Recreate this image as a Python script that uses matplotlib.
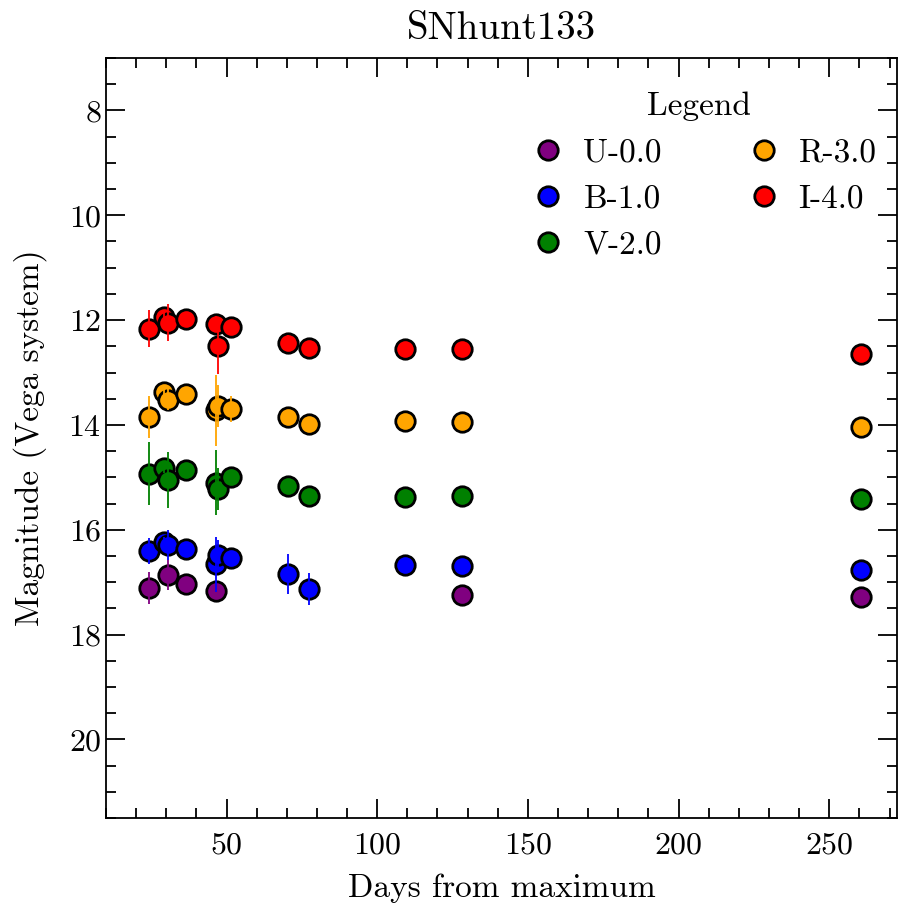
import matplotlib
matplotlib.use("Agg")
import matplotlib.pyplot as plt

plt.rcParams['font.family'] = ['cmr10', 'DejaVu Serif']
plt.rcParams['axes.formatter.use_mathtext'] = True
plt.rcParams['mathtext.fontset'] = 'cm'

title = "SNhunt133"
xlabel = "Days from maximum"
ylabel = "Magnitude (Vega system)"

# phases (days from maximum)
t_U = [24.4, 30.5, 36.6, 46.6, 128.2, 260.7]
m_U = [17.11, 16.86, 17.03, 17.16, 17.24, 17.29]
e_U = [0.30, 0.28, 0.05, 0.05, 0.05, 0.05]

t_all = [24.4, 29.4, 30.5, 36.6, 46.6, 47.3, 51.4, 70.4, 77.3, 109.3, 128.2, 260.7]

m_B = [16.41, 16.23, 16.29, 16.37, 16.66, 16.49, 16.54, 16.85, 17.13, 16.67, 16.69, 16.76]
e_B = [0.25, 0.10, 0.29, 0.05, 0.52, 0.30, 0.05, 0.38, 0.30, 0.05, 0.05, 0.05]

m_V = [14.93, 14.82, 15.05, 14.85, 15.10, 15.23, 15.00, 15.17, 15.35, 15.37, 15.35, 15.42]
e_V = [0.60, 0.10, 0.54, 0.05, 0.62, 0.40, 0.05, 0.05, 0.05, 0.05, 0.05, 0.05]

m_R = [13.84, 13.38, 13.52, 13.41, 13.72, 13.63, 13.69, 13.85, 13.99, 13.92, 13.95, 14.03]
e_R = [0.40, 0.10, 0.20, 0.05, 0.68, 0.40, 0.25, 0.10, 0.05, 0.05, 0.05, 0.05]

m_I = [12.16, 11.95, 12.05, 11.97, 12.08, 12.49, 12.13, 12.43, 12.54, 12.56, 12.55, 12.65]
e_I = [0.35, 0.10, 0.35, 0.05, 0.15, 0.54, 0.05, 0.15, 0.05, 0.05, 0.05, 0.05]

labels = ["U-0.0", "B-1.0", "V-2.0", "R-3.0", "I-4.0"]
colors = ["purple", "blue", "green", "orange", "red"]

series = [(t_U, m_U, e_U), (t_all, m_B, e_B), (t_all, m_V, e_V),
          (t_all, m_R, e_R), (t_all, m_I, e_I)]

fig = plt.figure(figsize=(9.03, 9.11), dpi=100)
ax = fig.add_axes([0.1174, 0.102, 0.8760, 0.8343])

for (t, m, e), lab, c in zip(series, labels, colors):
    ax.plot(t, m, 'o', ms=14, mfc=c, mec='black', mew=2, label=lab, ls='none')
    ax.errorbar(t, m, yerr=e, fmt='none', ecolor=c, elinewidth=1.3, capsize=0)

ax.set_xlim(10, 272.5)
ax.set_ylim(21.5, 7)
ax.set_yticks([8, 10, 12, 14, 16, 18, 20])
ax.set_xticks([50, 100, 150, 200, 250])
ax.xaxis.set_minor_locator(matplotlib.ticker.MultipleLocator(10))
ax.yaxis.set_minor_locator(matplotlib.ticker.MultipleLocator(0.5))
ax.tick_params(which='both', direction='in', top=True, right=True, labelsize=23, width=1.3)
ax.tick_params(which='major', length=14)
ax.tick_params(which='minor', length=7)
ax.tick_params(axis='x', pad=10)
for s in ax.spines.values():
    s.set_linewidth(1.3)

ax.set_title(title, fontsize=28, pad=14)
ax.set_xlabel(xlabel, fontsize=24, labelpad=10)
ax.set_ylabel(ylabel, fontsize=24, labelpad=15)

leg = ax.legend(title="Legend", ncol=2, frameon=False, loc='upper right',
                bbox_to_anchor=(1.012, 0.995),
                fontsize=24, title_fontsize=24, handlelength=1.6,
                handletextpad=0.25, columnspacing=2.25, labelspacing=0.5)

fig.savefig("out.png", dpi=100)
